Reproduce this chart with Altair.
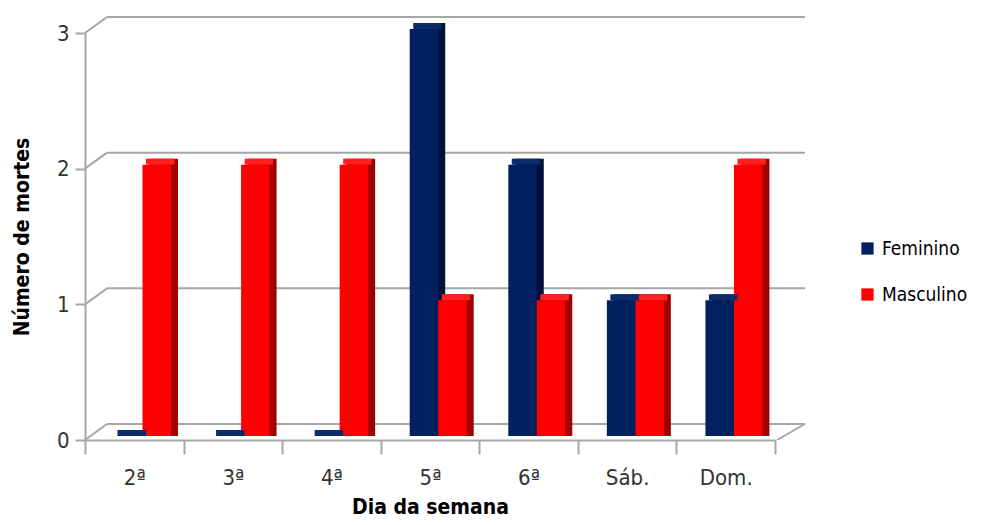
import altair as alt
import pandas as pd

days = ["2ª", "3ª", "4ª", "5ª", "6ª", "Sáb.", "Dom."]
feminino = [0, 0, 0, 3, 2, 1, 1]
masculino = [2, 2, 2, 1, 1, 1, 2]
series = ["Feminino", "Masculino"]
front_colors = ["#002060", "#FF0000"]
side_colors = ["#00123C", "#A00000"]
top_colors = ["#0B2B6B", "#FF2020"]
y_ticks = [0, 1, 2, 3]

rows = []
for d, f, m in zip(days, feminino, masculino):
    rows.append({"dia": d, "sexo": "Feminino", "n": f})
    rows.append({"dia": d, "sexo": "Masculino", "n": m})
df = pd.DataFrame(rows)
grid = pd.DataFrame({"v": y_ticks})
floor = pd.DataFrame({"v": [0]})

FONT = "DejaVu Sans Condensed"
GRID = "#A6A6A6"
W, H = 690, 407
BAR = 28.5
START = 29

yscale = alt.Scale(domain=[0, 3], nice=False, zero=True)
y_axis = alt.Axis(title="Número de mortes", values=y_ticks, format="d", grid=False,
                  tickSize=10, tickColor=GRID, tickWidth=2,
                  domainColor=GRID, domainWidth=2,
                  labelFont=FONT, labelFontSize=22, labelColor="#333333", labelPadding=6,
                  titleFont=FONT, titleFontSize=21, titleFontWeight="bold",
                  titleColor="#000000", titlePadding=24)

x_enc = alt.X("dia:N", sort=days, scale=alt.Scale(paddingInner=0, paddingOuter=0),
              axis=alt.Axis(title="Dia da semana", labelAngle=0, tickBand="extent",
                            tickSize=14, tickColor=GRID, tickWidth=2,
                            domainColor=GRID, domainWidth=2,
                            labelFont=FONT, labelFontSize=22, labelColor="#333333",
                            labelPadding=13, titleFont=FONT, titleFontSize=21,
                            titleFontWeight="bold", titleColor="#000000", titlePadding=8))


def xo(shift):
    return alt.XOffset("sexo:N", sort=series,
                       scale=alt.Scale(paddingInner=0, paddingOuter=0,
                                       range=[START + shift, START + shift + 2 * BAR]))


sides = alt.Chart(df).mark_bar(yOffset=-10, y2Offset=-4).encode(
    x=x_enc, xOffset=xo(7),
    y=alt.Y("n:Q", scale=yscale, axis=y_axis), y2=alt.datum(0),
    color=alt.Color("sexo:N", sort=series, scale=alt.Scale(domain=series, range=side_colors), legend=None),
)

fronts = alt.Chart(df).mark_bar(yOffset=-4).encode(
    x=x_enc, xOffset=xo(0),
    y=alt.Y("n:Q", scale=yscale, axis=y_axis),
    color=alt.Color("sexo:N", sort=series, scale=alt.Scale(domain=series, range=front_colors),
                    legend=alt.Legend(title=None, orient="none", legendX=773, legendY=206,
                                      symbolType="square", symbolSize=150, symbolStrokeWidth=0,
                                      labelFont=FONT, labelFontSize=19, labelColor="#000000",
                                      rowPadding=26, labelOffset=5)),
)

tops = alt.Chart(df).mark_bar(yOffset=-10, y2Offset=-4).encode(
    x=x_enc, xOffset=xo(3.5),
    y=alt.Y("n:Q", scale=yscale, axis=y_axis), y2="n:Q",
    color=alt.Color("sexo:N", sort=series, scale=alt.Scale(domain=series, range=top_colors), legend=None),
)

grid_h = alt.Chart(grid).mark_rule(color=GRID, strokeWidth=2, yOffset=-16).encode(
    y=alt.Y("v:Q", scale=yscale, axis=y_axis), x=alt.value(22), x2=alt.value(720))
grid_d = alt.Chart(grid).mark_rule(color=GRID, strokeWidth=2, y2Offset=-16).encode(
    y=alt.Y("v:Q", scale=yscale, axis=y_axis), y2="v:Q", x=alt.value(0), x2=alt.value(22))
floor_d = alt.Chart(floor).mark_rule(color=GRID, strokeWidth=2, y2Offset=-16).encode(
    y=alt.Y("v:Q", scale=yscale, axis=y_axis), y2="v:Q", x=alt.value(692), x2=alt.value(720))

chart = alt.layer(grid_h, grid_d, floor_d, sides, fronts, tops).resolve_scale(
    color="independent", xOffset="independent"
).properties(
    width=W, height=H,
    autosize=alt.AutoSizeParams(type="none"),
    padding={"left": 77, "top": 25, "right": 204, "bottom": 77},
).configure_view(stroke=None)

chart.save("out.html", embed_options={"renderer": "svg", "actions": False})
